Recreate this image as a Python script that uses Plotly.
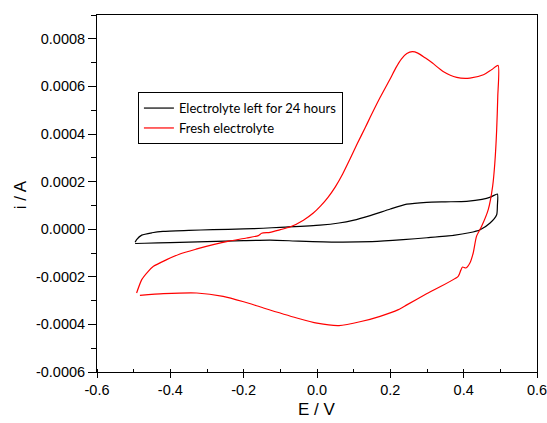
import plotly.graph_objects as go

# Electrolyte left for 24 hours (black)
aged_E = [-0.496, -0.492, -0.478, -0.45, -0.42, -0.35, -0.284, -0.2, -0.147, -0.10,
          0.008, 0.06, 0.098, 0.145, 0.2, 0.245, 0.299, 0.35, 0.408, 0.45, 0.475, 0.492,
          0.492, 0.49, 0.472, 0.445, 0.415, 0.372, 0.3, 0.235, 0.15, 0.054, -0.05,
          -0.128, -0.2, -0.3, -0.4, -0.47, -0.496]
aged_i = [-0.55e-4, -0.44e-4, -0.25e-4, -0.15e-4, -0.09e-4, -0.05e-4, -0.02e-4, 0.01e-4, 0.04e-4, 0.08e-4,
          0.17e-4, 0.26e-4, 0.37e-4, 0.57e-4, 0.85e-4, 1.05e-4, 1.13e-4, 1.15e-4, 1.17e-4, 1.25e-4, 1.36e-4, 1.48e-4,
          1.0e-4, 0.61e-4, 0.26e-4, -0.02e-4, -0.15e-4, -0.26e-4, -0.36e-4, -0.44e-4, -0.52e-4, -0.54e-4, -0.5e-4,
          -0.46e-4, -0.48e-4, -0.52e-4, -0.56e-4, -0.59e-4, -0.6e-4]

# Fresh electrolyte (red)
fresh_E = [-0.492, -0.478, -0.462, -0.446, -0.41, -0.374, -0.33, -0.283, -0.24, -0.192,
           -0.16, -0.151, -0.128, -0.10, -0.074, -0.037, -0.01, 0.01, 0.03, 0.05, 0.07, 0.09,
           0.11, 0.131, 0.145, 0.172, 0.199, 0.215, 0.23, 0.245, 0.26, 0.275, 0.295, 0.315,
           0.344, 0.381, 0.417, 0.454, 0.476, 0.494,
           0.493, 0.49, 0.485, 0.479, 0.467, 0.449, 0.435, 0.426, 0.417, 0.406,
           0.397, 0.392, 0.385, 0.3, 0.245, 0.222, 0.172, 0.12, 0.06, 0.0,
           -0.055, -0.146, -0.2, -0.256, -0.328, -0.419, -0.483]
fresh_i = [-2.68e-4, -2.12e-4, -1.80e-4, -1.56e-4, -1.28e-4, -1.04e-4, -0.84e-4, -0.65e-4, -0.5e-4, -0.37e-4,
           -0.27e-4, -0.17e-4, -0.13e-4, -0.02e-4, 0.09e-4, 0.38e-4, 0.68e-4, 0.98e-4, 1.34e-4, 1.78e-4, 2.32e-4, 2.95e-4,
           3.6e-4, 4.25e-4, 4.7e-4, 5.53e-4, 6.3e-4, 6.78e-4, 7.15e-4, 7.38e-4, 7.46e-4, 7.4e-4, 7.2e-4, 6.98e-4,
           6.63e-4, 6.38e-4, 6.35e-4, 6.49e-4, 6.70e-4, 6.88e-4,
           5.58e-4, 4.18e-4, 2.78e-4, 1.80e-4, 0.82e-4, 0.12e-4, -0.3e-4, -1.0e-4, -1.42e-4, -1.63e-4,
           -1.59e-4, -1.73e-4, -1.98e-4, -2.7e-4, -3.18e-4, -3.38e-4, -3.66e-4, -3.88e-4, -4.05e-4, -3.95e-4,
           -3.73e-4, -3.31e-4, -3.05e-4, -2.82e-4, -2.68e-4, -2.71e-4, -2.78e-4]

x_ticks = [-0.6, -0.4, -0.2, 0.0, 0.2, 0.4, 0.6]
x_tick_labels = ["-0.6", "-0.4", "-0.2", "0.0", "0.2", "0.4", "0.6"]
y_ticks = [-0.0006, -0.0004, -0.0002, 0.0, 0.0002, 0.0004, 0.0006, 0.0008]
y_tick_labels = ["-0.0006", "-0.0004", "-0.0002", "0.0000", "0.0002", "0.0004", "0.0006", "0.0008"]
x_title = "E / V"
y_title = "i / A"

fig = go.Figure()
fig.add_trace(go.Scatter(x=aged_E, y=aged_i, mode="lines", name="Electrolyte left for 24 hours",
                         line=dict(color="black", width=1.2, shape="spline", smoothing=0.6)))
fig.add_trace(go.Scatter(x=fresh_E, y=fresh_i, mode="lines", name="Fresh electrolyte",
                         line=dict(color="#ff0000", width=1.2, shape="spline", smoothing=0.6)))

font_family = "Liberation Sans, Arial, sans-serif"
axis_font = dict(family=font_family, size=14.5, color="black")
title_font = dict(family=font_family, size=17, color="black")
fig.update_layout(
    width=547, height=423,
    margin=dict(l=97, r=10, t=15, b=51),
    paper_bgcolor="white", plot_bgcolor="white",
    font=dict(family=font_family, color="black"),
    showlegend=True,
    legend=dict(x=0.093, y=0.784, xanchor="left", yanchor="top",
                bordercolor="black", borderwidth=1, bgcolor="white",
                font=dict(family="Lato, sans-serif", size=13, color="black"),
                itemwidth=30, tracegroupgap=0),
    xaxis=dict(range=[-0.6, 0.6], tickvals=x_ticks, ticktext=x_tick_labels,
               automargin=False, ticklabeloverflow="allow",
               showgrid=False, zeroline=False, showline=True, linecolor="black", linewidth=1,
               mirror=True, ticks="outside", ticklen=5, tickcolor="black",
               minor=dict(dtick=0.1, ticks="inside", ticklen=3, tickcolor="black", showgrid=False),
               tickfont=axis_font),
    yaxis=dict(range=[-0.0006, 0.0009], tickvals=y_ticks, ticktext=y_tick_labels,
               automargin=False, ticklabeloverflow="allow",
               showgrid=False, zeroline=False, showline=True, linecolor="black", linewidth=1,
               mirror=True, ticks="outside", ticklen=8, tickcolor="black",
               minor=dict(dtick=0.0001, ticks="outside", ticklen=5, tickcolor="black", showgrid=False),
               tickfont=axis_font),
    annotations=[
        dict(text=x_title, xref="paper", yref="paper", x=0.5, y=-0.106,
             xanchor="center", yanchor="middle", showarrow=False, font=title_font),
        dict(text=y_title, xref="paper", yref="paper", x=-0.175, y=0.495,
             xanchor="center", yanchor="middle", showarrow=False, textangle=-90, font=title_font),
    ],
)
fig.write_html("out.html", config={"displayModeBar": False},
               post_script="document.body.style.margin='0';document.body.style.overflow='hidden';")
